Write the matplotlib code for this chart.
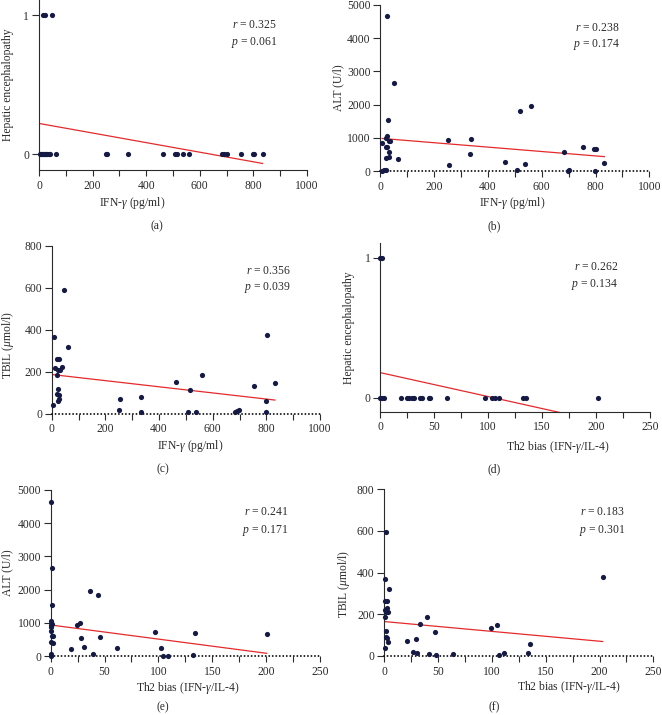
import numpy as np
import matplotlib.pyplot as plt

plt.rcParams['font.family'] = 'Liberation Serif'
plt.rcParams['mathtext.fontset'] = 'custom'
plt.rcParams['mathtext.rm'] = 'Liberation Serif'
plt.rcParams['mathtext.it'] = 'Liberation Serif:italic'

# (a) hepatic encephalopathy vs IFN-gamma
ifn_a = [3, 7, 11, 15, 19, 23, 27, 31, 36, 41, 62, 249, 255, 331, 463, 507, 516,
         537, 560, 684, 692, 701, 754, 797, 801, 834, 16, 22, 47]
he_a = [0] * 26 + [1, 1, 1]
fit_a = (0.220, -3.45e-4)
stats_a = ("0.325", "0.061")

# (b) ALT vs IFN-gamma
ifn_b = [26, 51, 30, 24, 20, 7, 20, 26, 31, 37, 32, 22, 32, 64, 12, 20, 8, 251, 256,
         334, 337, 463, 508, 518, 538, 560, 684, 696, 701, 754, 795, 798, 802, 833]
alt_b = [4660, 2640, 1530, 1060, 1000, 840, 740, 740, 920, 920, 590, 400, 420, 380,
         50, 30, 10, 940, 200, 530, 980, 270, 40, 1820, 220, 1950, 590, 0, 30, 720,
         680, 10, 660, 240]
fit_b = (990, -0.66)
stats_b = ("0.238", "0.174")

# (c) TBIL vs IFN-gamma
ifn_c = [9, 47, 62, 19, 27, 14, 22, 31, 37, 21, 22, 19, 27, 29, 24, 6, 251, 255, 332,
         334, 463, 507, 515, 537, 560, 683, 692, 699, 754, 797, 797, 801, 832]
tbil_c = [367, 590, 317, 261, 261, 216, 208, 208, 223, 184, 116, 94, 89, 68, 62, 41,
          17, 70, 10, 78, 153, 10, 113, 10, 184, 8, 14, 17, 134, 59, 6, 374, 148]
fit_c = (187, -0.1465)
stats_c = ("0.356", "0.039")

# (d) hepatic encephalopathy vs Th2 bias
th2_d = [0, 1.2, 3, 19, 25, 27, 29, 31, 37, 39, 45, 46, 62, 97, 103.5, 106, 110,
         132.6, 135, 201.5, 0, 1.5]
he_d = [0] * 20 + [1, 1]
fit_d = (0.179, -0.00171)
stats_d = ("0.262", "0.134")

# (e) ALT vs Th2 bias
th2_e = [0, 1, 1, 0, 0.5, 0, 0, 1.5, 1.2, 2, 0.3, 2.5, 0.3, 0, 18.8, 24, 27.2, 28.1,
         31, 36.5, 44.2, 45.8, 39.6, 61.3, 96.8, 102.4, 104.6, 109, 131.8, 134, 200.5]
alt_e = [4640, 2640, 1530, 1070, 950, 870, 770, 960, 610, 600, 420, 390, 60, 20, 210,
         950, 990, 540, 270, 1969, 1830, 590, 60, 240, 720, 250, 10, 20, 40, 700, 680]
fit_e = (940, -4.24)
stats_e = ("0.241", "0.171")

# (f) TBIL vs Th2 bias
th2_f = [1.5, 1, 4.6, 1, 2.5, 1, 2.5, 2, 3, 1, 1.5, 1.5, 2.5, 3, 0.8, 21, 26.6, 29.7,
         30.7, 32.8, 39.3, 41.8, 46.8, 48.3, 63.8, 99, 104.7, 106.6, 111, 134, 135.7, 203]
tbil_f = [595, 369, 321, 263, 263, 220, 228, 209, 212, 188, 120, 93, 88, 65, 40, 72,
          21, 80, 13, 155, 185, 8, 115, 5, 10, 134, 148, 5, 16, 16, 57, 377]
fit_f = (165, -0.471)
stats_f = ("0.183", "0.301")

W, H = 662, 715
DOT = '#141a44'
RED = '#e52a2c'
INK = '#2b2b2b'
FS = 8.4

fig = plt.figure(figsize=(W / 100, H / 100), dpi=100)


def fpos(x, y):
    return x / W, 1 - y / H


def panel(box, x, y, fit, ylim, yticks, xmax, xlabel, ylabel, stats, letter,
          xlab_at, ylab_at, stats_at, letter_at, dotted):
    l, t, r, b = box
    ax = fig.add_axes([l / W, 1 - b / H, (r - l) / W, (b - t) / H])
    ax.scatter(x, y, s=14, color=DOT, linewidths=0, zorder=3, clip_on=False)
    xs = np.array([min(x), max(x)])
    ax.plot(xs, fit[0] + fit[1] * xs, color=RED, lw=0.9, zorder=2)
    ax.set_xlim(0, xmax)
    ax.set_ylim(ylim)
    ax.set_xticks(np.arange(0, xmax + 1, xmax / 5))
    ax.set_xticks(np.arange(0, xmax + 1, xmax / 10), minor=True)
    ax.set_yticks(yticks)
    for s in ['top', 'right']:
        ax.spines[s].set_visible(False)
    for s in ['left', 'bottom']:
        ax.spines[s].set_color(INK)
        ax.spines[s].set_linewidth(0.8)
    if dotted:
        # the x axis of these panels is drawn as a row of dots
        sp = ax.spines['bottom']
        sp.set_color('#111111')
        sp.set_linewidth(1.4)
        sp.set_linestyle((0, (0.01, 1.8)))
        sp.set_capstyle('round')
    ax.tick_params(axis='y', length=5, width=0.8, colors=INK, labelsize=FS, pad=2)
    ax.tick_params(axis='x', which='both', length=4, width=0.8, colors=INK,
                   labelsize=FS, pad=3)
    ax.set_xlabel(xlabel, fontsize=FS, color=INK)
    ax.xaxis.set_label_coords(*fpos(*xlab_at), transform=fig.transFigure)
    ax.xaxis.label.set_verticalalignment('center')
    ax.set_ylabel(ylabel, fontsize=FS, color=INK)
    ax.yaxis.set_label_coords(*fpos(*ylab_at), transform=fig.transFigure)
    ax.yaxis.label.set_verticalalignment('center')
    sx, sy1, sy2 = stats_at
    fig.text(*fpos(sx, sy1), "$r$ = " + stats[0], ha='right', va='center',
             fontsize=FS, color=INK)
    fig.text(*fpos(sx, sy2), "$p$ = " + stats[1], ha='right', va='center',
             fontsize=FS, color=INK)
    fig.text(*fpos(*letter_at), letter, ha='center', va='center', fontsize=FS,
             color=INK)
    return ax


ifn_lab = r"IFN-$\gamma$ (pg/ml)"
th2_lab = r"Th2 bias (IFN-$\gamma$/IL-4)"
he_lab = "Hepatic encephalopathy"
alt_lab = "ALT (U/l)"
tbil_lab = r"TBIL ($\mu$mol/l)"

panel((39, 0, 307, 170), ifn_a, he_a, fit_a, (-0.115, 1.108), [0, 1], 1000,
      ifn_lab, he_lab, stats_a, "(a)", (132, 203), (8.5, 85), (277, 25, 43),
      (157, 226), False)
panel((380.3, 4.7, 649.3, 171.3), ifn_b, alt_b, fit_b, (0, 5000),
      np.arange(0, 5001, 1000), 1000, ifn_lab, alt_lab, stats_b, "(b)",
      (512.5, 203.3), (338, 88), (620, 28.3, 44), (494, 226.7), True)
panel((51.7, 246, 320, 413.7), ifn_c, tbil_c, fit_c, (0, 800),
      np.arange(0, 801, 200), 1000, ifn_lab, tbil_lab, stats_c, "(c)",
      (190, 446), (8.5, 345), (291, 271, 287.3), (163, 469), True)
panel((380.3, 243, 650, 411.7), th2_d, he_d, fit_d, (-0.1, 1.105), [0, 1], 250,
      th2_lab, he_lab, stats_d, "(d)", (558, 447.3), (349, 327.5),
      (618.3, 267.3, 284), (494, 469), False)
panel((50.7, 489.7, 320, 656.3), th2_e, alt_e, fit_e, (0, 5000),
      np.arange(0, 5001, 1000), 250, th2_lab, alt_lab, stats_e, "(e)",
      (188, 688), (7.5, 572.5), (288.7, 512.3, 531), (163, 707), True)
panel((384.3, 489, 653.3, 656), th2_f, tbil_f, fit_f, (0, 800),
      np.arange(0, 801, 200), 250, th2_lab, tbil_lab, stats_f, "(f)",
      (569, 686.7), (344, 584), (625, 512.3, 530), (494, 707), True)

fig.savefig("out.png", dpi=100)
